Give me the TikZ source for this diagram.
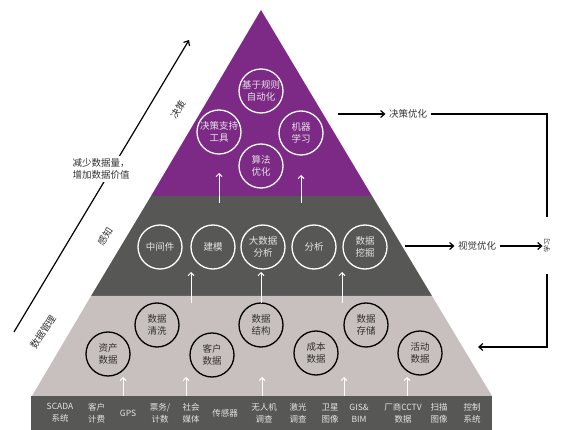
\documentclass[tikz,border=0pt]{standalone}
\usepackage{fontspec}
\setmainfont{Noto Sans CJK SC}
\usetikzlibrary{arrows.meta}
\definecolor{pur}{RGB}{124,42,134}
\definecolor{dk}{RGB}{87,87,86}
\definecolor{lt}{RGB}{200,192,190}
\definecolor{lighttxt}{RGB}{228,228,228}
\definecolor{darktxt}{RGB}{50,50,50}
\begin{document}
\begin{tikzpicture}[x=1pt,y=-1pt,
  wc/.style={circle, draw=white, line width=1.3pt, minimum size=44pt, inner sep=-4pt,
     text=lighttxt, align=center, font=\fontsize{9.5}{12}\selectfont},
  bc/.style={circle, draw=black, line width=1.3pt, minimum size=44pt, inner sep=-4pt,
     text=darktxt, align=center, font=\fontsize{9.5}{12}\selectfont},
  bar/.style={text=lighttxt, align=center, font=\fontsize{8.5}{12}\selectfont, inner sep=0pt},
  lab/.style={text=darktxt, font=\fontsize{9.5}{12}\selectfont},
  arr/.style={-{Straight Barb[length=4pt,width=7pt]}, line width=1.2pt},
  warr/.style={white, line width=1pt, -{Straight Barb[length=3pt,width=6pt]}},
  ln/.style={line width=1.2pt}]
\useasboundingbox (0,0) rectangle (565,430);
% layers
\fill[pur] (261,10) -- (372,196) -- (151,196) -- cycle;
\fill[dk] (151,196) -- (372,196) -- (432,296) -- (91,296) -- cycle;
\fill[lt] (91,296) -- (432,296) -- (492,396) -- (32,396) -- cycle;
\fill[dk] (31,396) rectangle (492,430);
% top layer circles
\node[wc] (p1) at (261,91) {基于规则\\自动化};
\node[wc] (p2) at (219,132) {决策支持\\工具};
\node[wc] (p3) at (301,133) {机器\\学习};
\node[wc] (p4) at (261,166) {算法\\优化};
% middle layer circles
\node[wc] (m1) at (160,247) {中间件};
\node[wc] (m2) at (213,247) {建模};
\node[wc] (m3) at (263,247) {大数据\\分析};
\node[wc] (m4) at (314,247) {分析};
\node[wc] (m5) at (365,247) {数据\\挖掘};
% bottom layer circles
\node[bc] (b1) at (108,354) {资产\\数据};
\node[bc] (b2) at (157,325) {数据\\清洗};
\node[bc] (b3) at (212,355) {客户\\数据};
\node[bc] (b4) at (261,325) {数据\\结构};
\node[bc] (b5) at (316,353) {成本\\数据};
\node[bc] (b6) at (366,325) {数据\\存储};
\node[bc] (b7) at (420,353) {活动\\数据};
% white arrows
\foreach \x/\ya/\yb [count=\i] in {219/203/173, 301/203/175} {
  \coordinate (ta\i) at (\x,\ya); \coordinate (tb\i) at (\x,\yb);
  \draw[warr] (ta\i) -- (tb\i);
}
\foreach \x [count=\i] in {191,261,342} {
  \coordinate (ma\i) at (\x,303); \coordinate (mb\i) at (\x,272);
  \draw[warr] (ma\i) -- (mb\i);
}
\foreach \x [count=\i] in {123,186,262,344,407} {
  \coordinate (ba\i) at (\x,396); \coordinate (bb\i) at (\x,377);
  \draw[warr] (ba\i) -- (bb\i);
}
% bottom bar labels
\node[bar] (s1) at (60,413) {SCADA\\系统};
\node[bar] (s2) at (96.5,413) {客户\\计费};
\node[bar] (s3) at (128,413) {GPS};
\node[bar] (s4) at (160,413) {票务/\\计数};
\node[bar] (s5) at (191,413) {社会\\媒体};
\node[bar] (s6) at (225,413) {传感器};
\node[bar] (s7) at (264,413) {无人机\\调查};
\node[bar] (s8) at (298,413) {激光\\调查};
\node[bar] (s9) at (330,413) {卫星\\图像};
\node[bar] (s10) at (359,413) {GIS\&\\BIM};
\node[bar] (s11) at (403,413) {厂商CCTV\\数据};
\node[bar] (s12) at (439,413) {扫描\\图像};
\node[bar] (s13) at (472,413) {控制\\系统};
% right side
\coordinate (a1) at (338,114);
\node[lab] (jc) at (408,114) {决策优化};
\draw[arr] (a1) -- (jc.west);
\coordinate (c1) at (547,217);
\draw[ln] (jc.east) -| (c1);
\coordinate (a2) at (405,246);
\node[lab] (sj) at (477,246) {视觉优化};
\draw[arr] (a2) -- (sj.west);
\node[text=darktxt, font=\fontsize{7}{8}\selectfont, rotate=90, inner sep=1pt] (xx) at (547,246) {学习};
\draw[arr] (sj.east) -- (xx.north);
\coordinate (c2) at (547,274);
\coordinate (c3) at (478,347);
\draw[arr] (c2) |- (c3);
% left side
\coordinate (l1) at (14,332);
\coordinate (l2) at (189,40);
\draw[arr] (l1) -- (l2);
\node[lab, fill=white, align=left, inner sep=3pt] (jx) at (101,169) {减少数据量，\\增加数据价值};
\node[lab, rotate=57] (d1) at (43,332) {数据管理};
\node[lab, rotate=57] (d2) at (105,237) {感知};
\node[lab, rotate=57] (d3) at (178,110) {决策};
\end{tikzpicture}
\end{document}
